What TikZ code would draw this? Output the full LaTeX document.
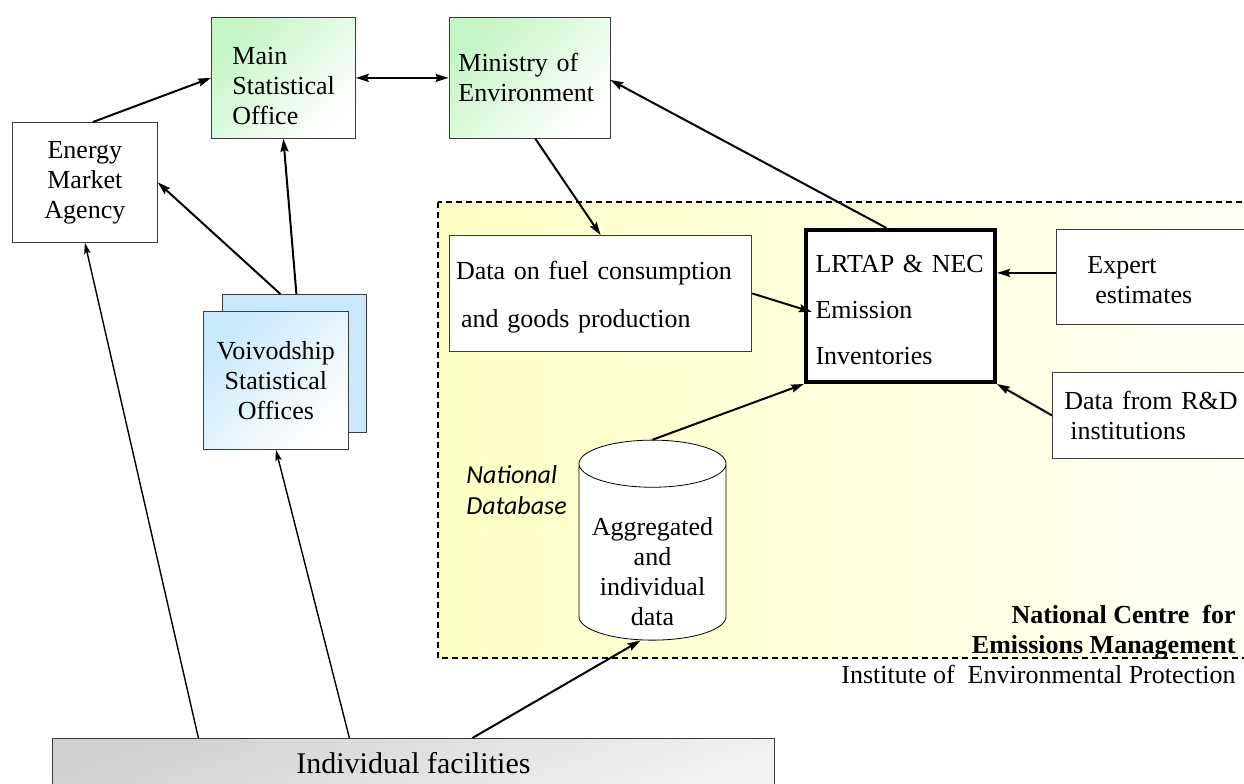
\documentclass[tikz,border=0pt]{standalone}
\usepackage{fontspec}
\setmainfont{Liberation Serif}
\newfontfamily\dbfont{Carlito}
\usetikzlibrary{shapes.geometric, arrows.meta}
\definecolor{boxgreen}{RGB}{196,245,196}
\definecolor{boxblue}{RGB}{200,232,252}
\definecolor{zoneyellow}{RGB}{255,255,196}
\definecolor{zonewhite}{RGB}{255,255,245}
\definecolor{facgray}{RGB}{208,208,208}
\definecolor{edgegray}{RGB}{60,60,60}
\tikzstyle{box} = [rectangle, draw=edgegray, anchor=north west]
\tikzstyle{plainbox} = [box, fill=white]
\tikzstyle{office} = [box, top color=boxgreen, bottom color=white, shading angle=45]
\tikzstyle{regional} = [box, top color=boxblue, bottom color=white, shading angle=45]
\tikzstyle{inventory} = [rectangle, draw=black, line width=2pt, fill=white, anchor=north west]
\tikzstyle{database} = [cylinder, shape border rotate=90, draw=black, fill=white, aspect=0.35, minimum width=73.5pt, minimum height=100pt]
\tikzstyle{facility} = [box, top color=facgray, bottom color=white!95!black, shading angle=20, font=\fontsize{15}{17}\selectfont]
\tikzstyle{zone} = [draw=black, line width=1pt, dash pattern=on 3pt off 2pt, left color=zoneyellow, right color=zonewhite]
\tikzstyle{arrow} = [line width=1pt, ->, >={Stealth[length=6.5pt, width=4pt, inset=1pt]}]
\tikzstyle{thinarrow} = [line width=0.7pt, ->, >={Stealth[length=5.5pt, width=3.2pt, inset=1pt]}]

\begin{document}
\begin{tikzpicture}[x=0.5pt, y=-0.5pt, font=\fontsize{13}{15}\selectfont]
	\useasboundingbox (0,0) rectangle (1244,783);
	% emissions centre
	\draw [zone] (438,202) rectangle (1264,658);
	\node (centre) [anchor=north east, align=right, inner sep=0pt, font=\fontsize{13}{15}\selectfont\bfseries] at (1236,605) {National Centre\ \ for\\Emissions Management};
	\node (institute) [anchor=base east, inner sep=0pt] at (1236,683) {Institute of\ \ Environmental Protection};
	\node (dblabel) [anchor=north west, align=left, inner sep=0pt, font=\fontsize{13}{15.5}\selectfont\dbfont\itshape] at (466,465) {National\\Database};
	% offices
	\node (mso) [office, minimum width=72pt, minimum height=60.5pt, text width=51pt, align=left] at (211,17) {\rule{0pt}{17pt}Main\\Statistical\\Office};
	\node (ministry) [office, minimum width=80.5pt, minimum height=60.5pt, text width=71pt, align=left] at (448.5,17) {Ministry of\\Environment};
	\node (ema) [plainbox, minimum width=72.5pt, minimum height=60pt, align=center] at (12,122) {Energy\\Market\\Agency};
	\node (voivback) [box, fill=boxblue, minimum width=72pt, minimum height=69pt] at (222,294) {};
	\node (voiv) [regional, minimum width=72.5pt, minimum height=69pt, align=center] at (203,311) {Voivodship\\Statistical\\Offices};
	% inventory inputs
	\node (fuel) [plainbox, minimum width=150.5pt, minimum height=58pt, text width=144.5pt, align=left] at (449,235) {\rule{0pt}{13pt}Data on fuel consumption\\[9pt]\hspace*{2.5pt}and goods production};
	\node (lrtap) [inventory, minimum width=94.5pt, minimum height=76pt, text width=85pt, align=left] at (804,228) {\rule{0pt}{13pt}LRTAP \& NEC\\[8pt]Emission\\[8pt]Inventories};
	\node (expert) [plainbox, minimum width=100pt, minimum height=47.5pt, text width=69pt, align=left] at (1056,229) {\rule{0pt}{12pt}Expert\\\hspace*{4pt}estimates};
	\node (rnd) [plainbox, minimum width=100pt, minimum height=43pt, text width=88pt, align=left] at (1052,372) {Data from R\&D\\\hspace*{3pt}institutions};
	\node (db) [database] at (652.5,557) {\raisebox{-11.5pt}[0pt][0pt]{\begin{tabular}{@{}c@{}}Aggregated\\and\\individual\\data\end{tabular}}};
	\node (facilities) [facility, minimum width=361pt, minimum height=25pt] at (52,738) {Individual facilities};
	% flows
	\draw [arrow] ([xshift=4pt]ema.north) -- (mso.west);
	\draw [arrow, <->] (mso.east) -- (ministry.west);
	\draw [arrow] ([xshift=-7pt]voivback.north) -- (ema.east);
	\draw [arrow] ([xshift=1pt]voivback.north) -- (mso.south);
	\draw [arrow] ([xshift=3pt]ministry.south) -- (fuel.north);
	\draw [arrow] ([xshift=-7pt]lrtap.north) -- ([yshift=-1pt]ministry.east);
	\draw [arrow] (fuel.east) -- ([xshift=4pt, yshift=-3pt]lrtap.west);
	\draw [arrow] ([yshift=2pt]expert.west) -- ([yshift=2pt]expert.west -| lrtap.east);
	\draw [arrow] (rnd.west) -- (lrtap.south east);
	\draw [arrow] (db.north) -- (lrtap.south west);
	\draw [thinarrow] ([xshift=-107.5pt]facilities.north) -- (ema.south);
	\draw [thinarrow] ([xshift=-32pt]facilities.north) -- (voiv.south);
	\draw [arrow] ([xshift=29.5pt]facilities.north) -- ([xshift=-6pt]db.south);
\end{tikzpicture}
\end{document}
